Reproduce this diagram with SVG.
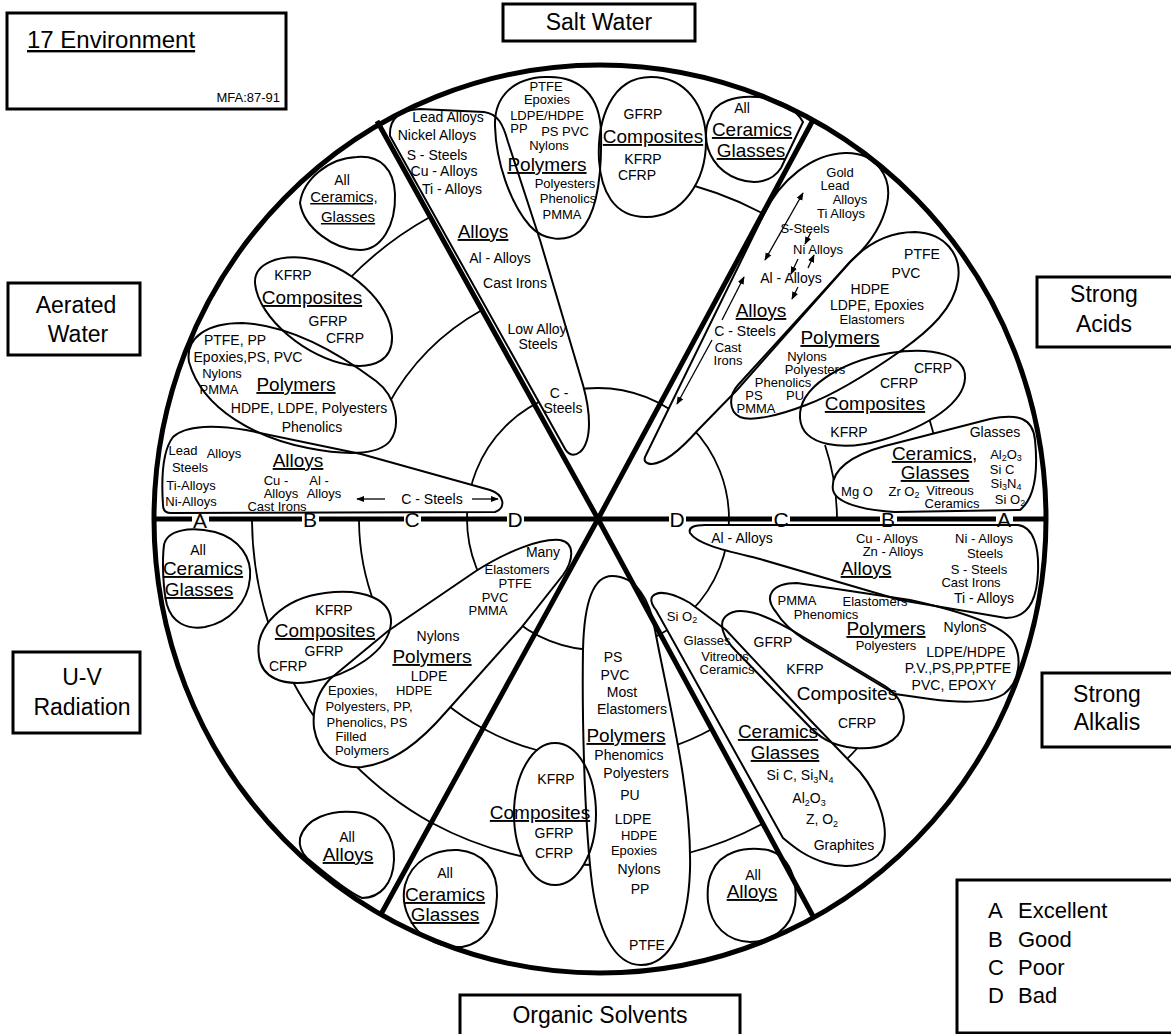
<svg xmlns="http://www.w3.org/2000/svg" width="1171" height="1034" viewBox="0 0 1171 1034">
<defs>
<style>
.bl{fill:none;stroke:#000;stroke-width:2}
.mk{fill:#fff;stroke:none}
.arc{fill:none;stroke:#000;stroke-width:1.8}
.sp{stroke:#000;stroke-width:5;fill:none}
.ar{stroke:#000;stroke-width:1.3;fill:none}
.box{fill:#fff;stroke:#000;stroke-width:3}
text{font-family:"Liberation Sans",Arial,Helvetica,sans-serif;fill:#000}
.t{font-size:14px;text-anchor:middle}
.c{font-size:13px;text-anchor:middle}
.h{font-size:19px;text-anchor:middle;text-decoration:underline}
.hn{font-size:19px;text-anchor:middle}
.s{font-size:15px;text-anchor:middle;text-decoration:underline}
.rl{font-size:21px;text-anchor:middle}
.bt{font-size:23px;text-anchor:middle}
.sb{font-size:9px}
</style>
<marker id="ah" viewBox="0 0 10 10" refX="9" refY="5" markerWidth="8" markerHeight="8" markerUnits="userSpaceOnUse" orient="auto-start-reverse"><path d="M0,1 L10,5 L0,9 Z" fill="#000"/></marker>
<path id="p-sw-al" d="M 390,136 C 389,118 400,110 420,109 L 484,112 C 498,114 503,124 508,142 L 540,240 L 583,385 C 590,410 593,440 580,452 C 572,458 567,453 564,447 Z"/>
<path id="p-sw-po" d="M 545,77 C 582,75 600,98 601,132 C 602,178 597,214 580,231 C 566,243 544,241 530,226 C 510,203 496,162 495,126 C 494,96 514,78 545,77 Z"/>
<path id="p-sw-co" d="M 651,77 C 686,77 706,106 706,141 C 706,182 682,217 646,217 C 613,217 601,190 599,160 C 597,120 611,77 651,77 Z"/>
<path id="p-sw-ce" d="M 710,118 C 714,102 735,95 758,97 C 780,99 795,108 803,122 L 781,168 C 772,182 755,185 738,179 C 716,171 706,152 706,135 C 706,128 707,123 710,118 Z"/>
<path id="p-sa-al" d="M 646,455 L 764,214 C 780,180 812,154 845,153 C 875,152 893,176 887,204 C 881,230 866,248 850,262 L 737,390 L 698,430 C 683,447 665,463 652,464 C 645,464 643,460 646,455 Z"/>
<path id="p-sa-po" d="M 850,262 C 868,243 890,232 915,232 C 945,233 962,255 958,280 C 954,308 930,330 902,350 C 872,371 836,394 806,405 C 780,415 752,422 740,417 C 728,411 729,395 738,385 Z"/>
<path id="p-sa-co" d="M 800,418 C 798,388 840,362 890,353 C 935,346 966,356 965,378 C 964,402 930,426 882,440 C 845,451 802,447 800,418 Z"/>
<path id="p-sa-ce" d="M 833,490 C 830,470 852,455 885,446 L 990,419 C 1018,413 1033,418 1035,440 C 1038,470 1035,498 1020,510 L 895,512 C 862,510 836,503 833,490 Z"/>
<path id="p-sk-al" d="M 690,533 C 688,527 695,525 705,525 L 1018,525 C 1034,527 1039,548 1038,572 C 1037,600 1028,618 1006,618 L 900,600 L 760,559 C 728,551 698,545 690,533 Z"/>
<path id="p-sk-po" d="M 776,612 C 763,596 772,583 797,583 L 910,600 C 960,611 1000,624 1012,640 C 1023,656 1020,682 1004,694 C 988,704 960,703 930,699 L 895,694 L 805,640 C 790,630 782,622 776,612 Z"/>
<path id="p-sk-co" d="M 726,616 C 738,605 762,612 800,635 L 885,686 C 901,696 906,712 903,724 C 899,742 880,750 855,748 C 830,746 818,736 806,723 L 736,651 C 723,638 718,623 726,616 Z"/>
<path id="p-sk-ce" d="M 652,597 C 658,589 674,594 690,603 L 726,630 L 812,722 L 860,772 C 880,796 890,830 882,850 C 872,866 846,869 826,863 C 806,857 795,848 783,838 L 656,610 C 652,605 650,601 652,597 Z"/>
<path id="p-os-po" d="M 612,576 C 636,576 650,600 655,630 C 668,700 692,790 690,870 C 688,930 669,965 641,965 C 615,965 597,932 591,875 C 584,810 582,710 583,650 C 584,605 592,576 612,576 Z"/>
<ellipse id="p-os-co" cx="555" cy="814" rx="41" ry="71"/>
<path id="p-os-ce" d="M 405,885 C 412,860 435,849 458,850 C 483,852 498,870 497,896 C 496,922 486,943 462,947 C 440,948 422,938 414,926 C 405,913 402,898 405,885 Z"/>
<path id="p-os-al" d="M 712,872 C 720,852 744,846 768,850 C 790,856 798,880 795,905 C 791,928 772,942 750,942 C 727,941 711,926 708,902 C 707,890 708,880 712,872 Z"/>
<path id="p-uv-ce" d="M 164,545 C 167,530 190,526 215,532 C 240,539 252,558 250,578 C 248,602 230,622 205,627 C 186,630 172,622 167,605 C 163,590 162,560 164,545 Z"/>
<path id="p-uv-co" d="M 259,657 C 254,626 284,598 325,593 C 365,588 392,600 391,623 C 389,651 350,676 310,682 C 281,686 262,677 259,657 Z"/>
<path id="p-uv-po" d="M 330,679 L 388,631 L 476,571 C 506,552 540,538 560,540 C 576,543 573,561 563,575 L 521,628 L 446,712 C 421,741 394,763 362,767 C 334,769 318,752 314,728 C 312,708 318,692 330,679 Z"/>
<path id="p-uv-al" d="M 300,838 C 306,818 330,810 354,812 C 380,814 395,835 394,860 C 393,884 380,898 362,898 C 348,892 326,874 307,858 C 301,852 299,845 300,838 Z"/>
<path id="p-aw-ce" d="M 300,203 C 303,180 328,158 357,157 C 381,155 394,170 395,194 C 396,226 381,250 360,250 C 334,250 304,228 300,203 Z"/>
<path id="p-aw-co" d="M 255,283 C 254,263 279,255 305,258 C 350,264 391,304 392,336 C 393,359 375,369 349,365 C 309,359 258,319 255,283 Z"/>
<path id="p-aw-po" d="M 189,362 C 185,337 208,323 242,323 C 292,325 341,355 376,381 C 397,397 401,426 390,441 C 378,456 343,455 308,448 C 258,438 203,411 189,362 Z"/>
<path id="p-aw-al" d="M 163,505 C 161,475 163,450 173,437 C 186,425 216,425 246,430 L 361,454 L 490,490 C 505,495 506,508 495,512 L 171,513 C 165,513 163,510 163,505 Z"/>
</defs>
<rect width="1171" height="1034" fill="#fff"/>
<g id="rings">
<circle cx="598" cy="519" r="131" class="arc"/>
<path class="arc" d="M 670,180 A 347 347 0 0 1 762,213"/>
<path class="arc" d="M 348,280 A 346 346 0 0 1 430,217"/>
<path class="arc" d="M 388,405 A 239 239 0 0 1 482,310"/>
<path class="arc" d="M 252,521 A 346 346 0 0 0 269,625"/>
<path class="arc" d="M 292,680 A 346 346 0 0 0 318,722"/>
<path class="arc" d="M 352,762 A 346 346 0 0 0 432,823"/>
<path class="arc" d="M 359,521 A 239 239 0 0 0 375,605"/>
<path class="arc" d="M 445,703 A 239 239 0 0 0 484,729"/>
<path class="arc" d="M 484,729 A 239 239 0 0 0 540,751"/>
<path class="arc" d="M 668,748 A 239 239 0 0 0 712,729"/>
<path class="arc" d="M 432,823 A 346 346 0 0 0 525,857"/>
<path class="arc" d="M 572,864 A 346 346 0 0 0 600,865"/>
<path class="arc" d="M 685,854 A 346 346 0 0 0 764,823"/>
<path class="arc" d="M 843,763 A 346 346 0 0 0 862,743"/>
<path class="arc" d="M 825,445 A 239 239 0 0 1 837,519"/>
<path class="arc" d="M 929,418 A 346 346 0 0 1 935,440"/>
<path class="arc" d="M 892,352 L 898,345 L 904,351"/>
</g>
<g id="masks">
<use href="#p-sw-al" class="mk"/><use href="#p-sw-po" class="mk"/><use href="#p-sw-co" class="mk"/><use href="#p-sw-ce" class="mk"/>
<use href="#p-sa-al" class="mk"/><use href="#p-sa-po" class="mk"/><use href="#p-sa-co" class="mk"/><use href="#p-sa-ce" class="mk"/>
<use href="#p-sk-al" class="mk"/><use href="#p-sk-po" class="mk"/><use href="#p-sk-co" class="mk"/><use href="#p-sk-ce" class="mk"/>
<use href="#p-os-po" class="mk"/><use href="#p-os-co" class="mk"/><use href="#p-os-ce" class="mk"/><use href="#p-os-al" class="mk"/>
<use href="#p-uv-ce" class="mk"/><use href="#p-uv-co" class="mk"/><use href="#p-uv-po" class="mk"/><use href="#p-uv-al" class="mk"/>
<use href="#p-aw-ce" class="mk"/><use href="#p-aw-co" class="mk"/><use href="#p-aw-po" class="mk"/><use href="#p-aw-al" class="mk"/>
</g>
<g id="wheel">
<ellipse cx="600" cy="519" rx="446" ry="454" class="sp"/>
<path class="sp" d="M 377,121 L 598,519 L 814,918"/>
<path class="sp" d="M 813,120 L 598,519 L 380,916"/>
<path class="sp" d="M 154,519 H 192 M 209,519 H 302 M 319,519 H 404 M 421,519 H 507 M 524,519 H 669 M 686,519 H 772 M 790,519 H 880 M 897,519 H 996 M 1013,519 H 1046"/>
<text class="rl" x="200" y="528">A</text>
<text class="rl" x="310" y="527">B</text>
<text class="rl" x="412" y="527">C</text>
<text class="rl" x="515" y="527">D</text>
<text class="rl" x="677" y="527">D</text>
<text class="rl" x="781" y="527">C</text>
<text class="rl" x="888" y="527">B</text>
<text class="rl" x="1004" y="527">A</text>
</g>
<g id="sw-alloys"><use href="#p-sw-al" class="bl"/>
<text class="t" x="448" y="122">Lead Alloys</text>
<text class="t" x="437" y="140">Nickel Alloys</text>
<text class="t" x="437" y="160">S - Steels</text>
<text class="t" x="444" y="176">Cu - Alloys</text>
<text class="t" x="452" y="194">Ti - Alloys</text>
<text class="h" x="483" y="238">Alloys</text>
<text class="t" x="500" y="263">Al - Alloys</text>
<text class="t" x="515" y="288">Cast Irons</text>
<text class="t" x="537" y="334">Low Alloy</text>
<text class="t" x="538" y="349">Steels</text>
<text class="t" x="559" y="398">C -</text>
<text class="t" x="563" y="413">Steels</text>
</g>
<g id="sw-polymers"><use href="#p-sw-po" class="bl"/>
<text class="c" x="546" y="91">PTFE</text>
<text class="c" x="547" y="104">Epoxies</text>
<text class="c" x="547" y="120">LDPE/HDPE</text>
<text class="c" x="519" y="133">PP</text>
<text class="c" x="565" y="136">PS PVC</text>
<text class="c" x="549" y="150">Nylons</text>
<text class="h" x="547" y="171">Polymers</text>
<text class="c" x="565" y="188">Polyesters</text>
<text class="c" x="568" y="203">Phenolics</text>
<text class="c" x="562" y="219">PMMA</text>
</g>
<g id="sw-composites"><use href="#p-sw-co" class="bl"/>
<text class="t" x="643" y="119">GFRP</text>
<text class="h" x="653" y="143">Composites</text>
<text class="t" x="643" y="164">KFRP</text>
<text class="t" x="637" y="180">CFRP</text>
</g>
<g id="sw-ceramics"><use href="#p-sw-ce" class="bl"/>
<text class="t" x="742" y="113">All</text>
<text class="h" x="752" y="136">Ceramics</text>
<text class="h" x="751" y="157">Glasses</text>
</g>
<g id="sa-alloys"><use href="#p-sa-al" class="bl"/>
<text class="c" x="840" y="177">Gold</text>
<text class="c" x="835" y="190">Lead</text>
<text class="c" x="850" y="204">Alloys</text>
<text class="c" x="841" y="218">Ti Alloys</text>
<text class="c" x="805" y="233">S-Steels</text>
<text class="c" x="818" y="254">Ni Alloys</text>
<text class="t" x="791" y="283">Al - Alloys</text>
<text class="h" x="761" y="317">Alloys</text>
<text class="t" x="745" y="336">C - Steels</text>
<text class="c" x="728" y="352">Cast</text>
<text class="c" x="728" y="365">Irons</text>
</g>
<g id="sa-polymers"><use href="#p-sa-po" class="bl"/>
<text class="t" x="922" y="259">PTFE</text>
<text class="t" x="906" y="278">PVC</text>
<text class="t" x="870" y="294">HDPE</text>
<text class="t" x="877" y="310">LDPE, Epoxies</text>
<text class="c" x="872" y="324">Elastomers</text>
<text class="h" x="840" y="344">Polymers</text>
<text class="c" x="807" y="361">Nylons</text>
<text class="c" x="815" y="374">Polyesters</text>
<text class="c" x="783" y="387">Phenolics</text>
<text class="c" x="754" y="400">PS</text>
<text class="c" x="795" y="400">PU</text>
<text class="c" x="756" y="413">PMMA</text>
</g>
<g id="sa-composites"><use href="#p-sa-co" class="bl"/>
<text class="t" x="933" y="373">CFRP</text>
<text class="t" x="899" y="388">CFRP</text>
<text class="h" x="875" y="410">Composites</text>
<text class="t" x="849" y="437">KFRP</text>
</g>
<g id="sa-ceramics"><use href="#p-sa-ce" class="bl"/>
<text class="t" x="995" y="437">Glasses</text>
<text class="h" x="932" y="460">Ceramics</text><text x="972" y="460" font-size="19">,</text>
<text class="c" x="1006" y="459">Al<tspan class="sb" dy="2">2</tspan><tspan dy="-2">O</tspan><tspan class="sb" dy="2">3</tspan></text>
<text class="h" x="935" y="479">Glasses</text>
<text class="c" x="1002" y="474">Si C</text>
<text class="c" x="1006" y="488">Si<tspan class="sb" dy="2">3</tspan><tspan dy="-2">N</tspan><tspan class="sb" dy="2">4</tspan></text>
<text class="c" x="857" y="496">Mg O</text>
<text class="c" x="904" y="496">Zr O<tspan class="sb" dy="2">2</tspan></text>
<text class="c" x="950" y="495">Vitreous</text>
<text class="c" x="952" y="508">Ceramics</text>
<text class="c" x="1010" y="504">Si O<tspan class="sb" dy="2">2</tspan></text>
</g>
<g id="sk-alloys"><use href="#p-sk-al" class="bl"/>
<text class="t" x="742" y="543">Al - Alloys</text>
<text class="c" x="887" y="543">Cu - Alloys</text>
<text class="c" x="893" y="556">Zn - Alloys</text>
<text class="h" x="866" y="575">Alloys</text>
<text class="c" x="984" y="543">Ni - Alloys</text>
<text class="c" x="985" y="558">Steels</text>
<text class="c" x="979" y="574">S - Steels</text>
<text class="c" x="971" y="587">Cast Irons</text>
<text class="t" x="984" y="603">Ti - Alloys</text>
</g>
<g id="sk-polymers"><use href="#p-sk-po" class="bl"/>
<text class="c" x="797" y="605">PMMA</text>
<text class="c" x="875" y="606">Elastomers</text>
<text class="c" x="826" y="619">Phenomics</text>
<text class="h" x="886" y="635">Polymers</text>
<text class="t" x="965" y="632">Nylons</text>
<text class="c" x="886" y="650">Polyesters</text>
<text class="t" x="966" y="657">LDPE/HDPE</text>
<text class="t" x="958" y="673">P.V.,PS,PP,PTFE</text>
<text class="t" x="954" y="690">PVC, EPOXY</text>
</g>
<g id="sk-composites"><use href="#p-sk-co" class="bl"/>
<text class="t" x="773" y="647">GFRP</text>
<text class="t" x="805" y="674">KFRP</text>
<text class="hn" x="847" y="700">Composites</text>
<text class="t" x="857" y="728">CFRP</text>
</g>
<g id="sk-ceramics"><use href="#p-sk-ce" class="bl"/>
<text class="c" x="682" y="621">Si O<tspan class="sb" dy="2">2</tspan></text>
<text class="c" x="707" y="645">Glasses</text>
<text class="c" x="725" y="661">Vitreous</text>
<text class="c" x="727" y="674">Ceramics</text>
<text class="h" x="778" y="738">Ceramics</text>
<text class="h" x="785" y="759">Glasses</text>
<text class="t" x="800" y="780">Si C, Si<tspan class="sb" dy="3">3</tspan><tspan dy="-3">N</tspan><tspan class="sb" dy="3">4</tspan></text>
<text class="t" x="809" y="803">Al<tspan class="sb" dy="3">2</tspan><tspan dy="-3">O</tspan><tspan class="sb" dy="3">3</tspan></text>
<text class="t" x="822" y="824">Z, O<tspan class="sb" dy="3">2</tspan></text>
<text class="t" x="844" y="850">Graphites</text>
</g>
<g id="os-polymers"><use href="#p-os-po" class="bl"/>
<text class="t" x="613" y="662">PS</text>
<text class="t" x="615" y="680">PVC</text>
<text class="t" x="622" y="697">Most</text>
<text class="t" x="632" y="714">Elastomers</text>
<text class="h" x="626" y="742">Polymers</text>
<text class="t" x="629" y="760">Phenomics</text>
<text class="t" x="636" y="778">Polyesters</text>
<text class="t" x="630" y="800">PU</text>
<text class="t" x="633" y="824">LDPE</text>
<text class="c" x="639" y="840">HDPE</text>
<text class="c" x="634" y="855">Epoxies</text>
<text class="t" x="639" y="874">Nylons</text>
<text class="t" x="640" y="894">PP</text>
<text class="t" x="647" y="950">PTFE</text>
</g>
<g id="os-composites"><use href="#p-os-co" class="bl"/>
<text class="t" x="556" y="784">KFRP</text>
<text class="h" x="540" y="819">Composites</text>
<text class="t" x="554" y="838">GFRP</text>
<text class="t" x="554" y="858">CFRP</text>
</g>
<g id="os-ceramics"><use href="#p-os-ce" class="bl"/>
<text class="t" x="445" y="878">All</text>
<text class="h" x="445" y="901">Ceramics</text>
<text class="h" x="445" y="921">Glasses</text>
</g>
<g id="os-alloys"><use href="#p-os-al" class="bl"/>
<text class="t" x="753" y="880">All</text>
<text class="h" x="752" y="898">Alloys</text>
</g>
<g id="uv-ceramics"><use href="#p-uv-ce" class="bl"/>
<text class="t" x="198" y="555">All</text>
<text class="h" x="203" y="575">Ceramics</text>
<text class="h" x="199" y="596">Glasses</text>
</g>
<g id="uv-composites"><use href="#p-uv-co" class="bl"/>
<text class="t" x="334" y="615">KFRP</text>
<text class="h" x="325" y="637">Composites</text>
<text class="t" x="324" y="656">GFRP</text>
<text class="t" x="288" y="671">CFRP</text>
</g>
<g id="uv-polymers"><use href="#p-uv-po" class="bl"/>
<text class="t" x="543" y="557">Many</text>
<text class="c" x="517" y="574">Elastomers</text>
<text class="c" x="515" y="588">PTFE</text>
<text class="c" x="495" y="602">PVC</text>
<text class="c" x="488" y="615">PMMA</text>
<text class="t" x="438" y="641">Nylons</text>
<text class="h" x="432" y="663">Polymers</text>
<text class="t" x="429" y="681">LDPE</text>
<text class="c" x="353" y="695">Epoxies,</text>
<text class="c" x="414" y="695">HDPE</text>
<text class="c" x="369" y="711">Polyesters, PP,</text>
<text class="c" x="367" y="727">Phenolics, PS</text>
<text class="c" x="351" y="741">Filled</text>
<text class="c" x="362" y="755">Polymers</text>
</g>
<g id="uv-alloys"><use href="#p-uv-al" class="bl"/>
<text class="t" x="347" y="842">All</text>
<text class="h" x="348" y="861">Alloys</text>
</g>
<g id="aw-ceramics"><use href="#p-aw-ce" class="bl"/>
<text class="t" x="342" y="185">All</text>
<text class="s" x="344" y="202">Ceramics,</text>
<text class="s" x="348" y="222">Glasses</text>
</g>
<g id="aw-composites"><use href="#p-aw-co" class="bl"/>
<text class="t" x="293" y="280">KFRP</text>
<text class="h" x="312" y="304">Composites</text>
<text class="t" x="328" y="326">GFRP</text>
<text class="t" x="345" y="343">CFRP</text>
</g>
<g id="aw-polymers"><use href="#p-aw-po" class="bl"/>
<text class="t" x="235" y="345">PTFE, PP</text>
<text class="t" x="248" y="362">Epoxies,PS, PVC</text>
<text class="c" x="222" y="378">Nylons</text>
<text class="c" x="219" y="394">PMMA</text>
<text class="h" x="296" y="391">Polymers</text>
<text class="t" x="309" y="413">HDPE, LDPE, Polyesters</text>
<text class="t" x="312" y="432">Phenolics</text>
</g>
<g id="aw-alloys"><use href="#p-aw-al" class="bl"/>
<text class="c" x="183" y="455">Lead</text>
<text class="c" x="224" y="458">Alloys</text>
<text class="c" x="190" y="472">Steels</text>
<text class="h" x="298" y="467">Alloys</text>
<text class="c" x="276" y="485">Cu -</text>
<text class="c" x="319" y="485">Al -</text>
<text class="c" x="281" y="498">Alloys</text>
<text class="c" x="324" y="498">Alloys</text>
<text class="c" x="191" y="490">Ti-Alloys</text>
<text class="c" x="191" y="506">Ni-Alloys</text>
<text class="c" x="277" y="511">Cast Irons</text>
<text class="t" x="432" y="504">C - Steels</text>
</g>
<g id="connectors">
<path class="ar" d="M 385,499 L 357,499" marker-end="url(#ah)"/>
<path class="ar" d="M 472,499 L 498,499" marker-end="url(#ah)"/>
<path class="ar" d="M 765,260 L 803,193" marker-start="url(#ah)" marker-end="url(#ah)"/>
<path class="ar" d="M 811,232 L 805,244" marker-end="url(#ah)"/>
<path class="ar" d="M 798,259 L 791,274" marker-end="url(#ah)"/>
<path class="ar" d="M 808,268 L 814,255" marker-end="url(#ah)"/>
<path class="ar" d="M 798,287 L 792,299" marker-end="url(#ah)"/>
<path class="ar" d="M 722,320 L 744,277" marker-end="url(#ah)"/>
<path class="ar" d="M 712,340 L 677,404" marker-end="url(#ah)"/>
</g>
<g id="box-env"><rect class="box" x="7" y="13" width="279" height="96"/>
<text x="27" y="48" font-size="24" text-decoration="underline">17 Environment</text>
<text x="280" y="102" font-size="13" text-anchor="end">MFA:87-91</text>
</g>
<g id="box-salt"><rect class="box" x="503" y="4" width="192" height="37"/><text class="bt" x="599" y="30">Salt Water</text></g>
<g id="box-aerated"><rect class="box" x="8" y="283" width="132" height="72"/><text class="bt" x="76" y="313">Aerated</text><text class="bt" x="78" y="342">Water</text></g>
<g id="box-uv"><rect class="box" x="13" y="652" width="127" height="81"/><text class="bt" x="82" y="685">U-V</text><text class="bt" x="82" y="715">Radiation</text></g>
<g id="box-acids"><rect class="box" x="1037" y="277" width="140" height="70"/><text class="bt" x="1104" y="302">Strong</text><text class="bt" x="1104" y="332">Acids</text></g>
<g id="box-alkalis"><rect class="box" x="1042" y="673" width="140" height="74"/><text class="bt" x="1107" y="702">Strong</text><text class="bt" x="1107" y="730">Alkalis</text></g>
<g id="box-organic"><rect class="box" x="460" y="995" width="280" height="45"/><text class="bt" x="600" y="1023" font-size="24">Organic Solvents</text></g>
<g id="legend"><rect class="box" x="957" y="880" width="220" height="153"/>
<text x="988" y="918" font-size="22">A</text><text x="1018" y="918" font-size="22">Excellent</text>
<text x="988" y="947" font-size="22">B</text><text x="1018" y="947" font-size="22">Good</text>
<text x="988" y="975" font-size="22">C</text><text x="1018" y="975" font-size="22">Poor</text>
<text x="988" y="1003" font-size="22">D</text><text x="1018" y="1003" font-size="22">Bad</text>
</g>
</svg>
